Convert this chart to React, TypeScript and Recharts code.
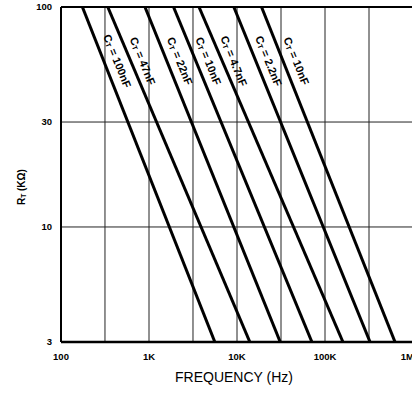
import { CartesianGrid, Label, Line, LineChart, ReferenceLine, XAxis, YAxis } from 'recharts'

// frequency (Hz) where each C_T line meets R_T = 100k and R_T = 3k
const capLabels = ['100nF', '47nF', '22nF', '10nF', '4.7nF', '2.2nF', '10nF']
const freqAtTop = [175, 340, 900, 1900, 3700, 9200, 19000]
const freqAtBottom = [5600, 14000, 31000, 71000, 160000, 325000, 625000]
const rTop = 100
const rBottom = 3

const xTicks = [100, 316, 1000, 3162, 10000, 31623, 100000, 316228, 1000000]
const xTickLabels = ['100', '', '1K', '', '10K', '', '100K', '', '1M']
const yTicks = [3, 10, 30, 100]

const series = capLabels.map((cap, i) => ({
  cap,
  data: [
    { f: freqAtTop[i], r: rTop },
    { f: freqAtBottom[i], r: rBottom },
  ],
}))

const font = 'Arial, "Liberation Sans", Helvetica, sans-serif'

function capLabel(cap: string) {
  return (props: any) => {
    if (props.index !== 0) return null
    const cx = props.x + 35
    const cy = props.y + 54
    return (
      <text
        x={cx}
        y={cy}
        transform={`rotate(68 ${cx} ${cy})`}
        textAnchor="middle"
        dominantBaseline="central"
        fontFamily={font}
        fontWeight="bold"
        fontSize={11}
        fill="#000"
      >
        <tspan>C</tspan>
        <tspan fontSize={7} dy={2}>T</tspan>
        <tspan dy={-2}>{' = ' + cap}</tspan>
      </text>
    )
  }
}

export default function App() {
  return (
    <div style={{ position: 'absolute', left: 0, top: 0, width: 412, height: 394, overflow: 'hidden', background: '#fff' }}>
      <LineChart width={414} height={394} margin={{ top: 7, right: 1, bottom: 0, left: 0 }}>
        <CartesianGrid stroke="#222" strokeWidth={1} />
        <XAxis
          type="number"
          dataKey="f"
          scale="log"
          domain={[100, 1000000]}
          ticks={xTicks}
          tickFormatter={(v: number) => xTickLabels[xTicks.indexOf(v)] ?? ''}
          allowDataOverflow
          height={52}
          tickSize={0}
          tickMargin={11}
          axisLine={{ stroke: '#000', strokeWidth: 2.5 }}
          tick={{ fill: '#000', fontSize: 9.5, fontWeight: 'bold', fontFamily: font }}
        >
          <Label
            content={(p: any) => (
              <text
                x={p.viewBox.x + p.viewBox.width / 2 - 3}
                y={p.viewBox.y + 35}
                textAnchor="middle"
                dominantBaseline="central"
                fontFamily={font}
                fontSize={14}
                fill="#000"
              >
                FREQUENCY (Hz)
              </text>
            )}
          />
        </XAxis>
        <YAxis
          type="number"
          dataKey="r"
          scale="log"
          domain={[3, 100]}
          ticks={yTicks}
          allowDataOverflow
          width={61}
          tickSize={0}
          tickMargin={9}
          axisLine={{ stroke: '#000', strokeWidth: 2 }}
          tick={{ fill: '#000', fontSize: 9.5, fontWeight: 'bold', fontFamily: font }}
        >
          <Label
            content={() => (
              <text
                x={21}
                y={187}
                transform="rotate(-90 21 187)"
                textAnchor="middle"
                dominantBaseline="central"
                fontFamily={font}
                fontWeight="bold"
                fontSize={10}
                fill="#000"
              >
                <tspan>R</tspan>
                <tspan fontSize={6.5} dy={2}>T</tspan>
                <tspan dy={-2}> (KΩ)</tspan>
              </text>
            )}
          />
        </YAxis>
        <ReferenceLine y={100} stroke="#000" strokeWidth={2} />
        {series.map((s, i) => (
          <Line
            key={i}
            data={s.data}
            dataKey="r"
            type="linear"
            stroke="#000"
            strokeWidth={3}
            dot={false}
            activeDot={false}
            label={capLabel(s.cap)}
            isAnimationActive={false}
          />
        ))}
      </LineChart>
    </div>
  )
}
